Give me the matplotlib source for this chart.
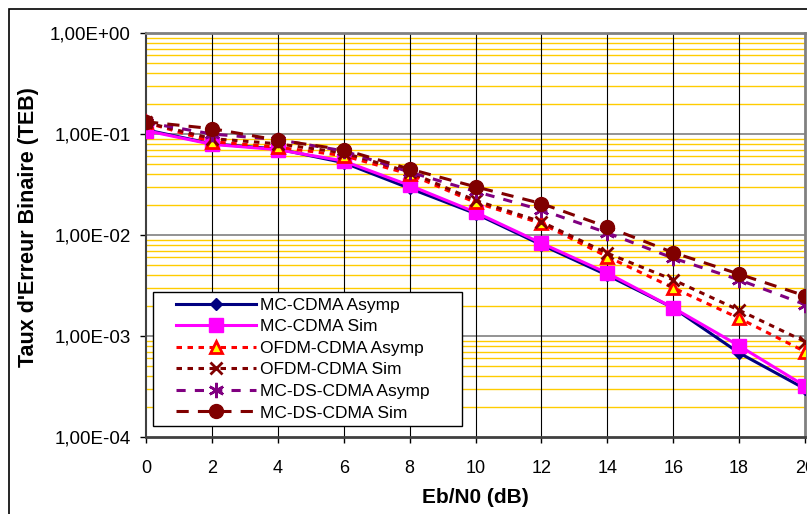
import matplotlib
matplotlib.use("Agg")
import matplotlib.pyplot as plt
from matplotlib.patches import Rectangle
from matplotlib.ticker import FixedLocator, NullFormatter
import numpy as np

plt.rcParams['font.family'] = ['Liberation Sans', 'DejaVu Sans']

ebn0 = [0, 2, 4, 6, 8, 10, 12, 14, 16, 18, 20]
mc_cdma_asymp = [0.11, 0.080, 0.071, 0.052, 0.029, 0.0163, 0.0080, 0.0040, 0.0019, 0.00068, 0.00030]
mc_cdma_sim = [0.108, 0.079, 0.070, 0.054, 0.031, 0.0168, 0.0083, 0.0042, 0.0019, 0.00080, 0.00032]
ofdm_asymp = [0.13, 0.084, 0.074, 0.061, 0.040, 0.021, 0.0130, 0.0061, 0.0030, 0.00150, 0.00070]
ofdm_sim = [0.13, 0.090, 0.080, 0.065, 0.042, 0.022, 0.0135, 0.0066, 0.0036, 0.00180, 0.00088]
mcds_asymp = [0.13, 0.100, 0.088, 0.068, 0.042, 0.027, 0.0177, 0.0105, 0.0059, 0.00360, 0.00205]
mcds_sim = [0.132, 0.113, 0.087, 0.070, 0.045, 0.030, 0.0205, 0.0120, 0.0067, 0.00410, 0.00250]
labels = ["MC-CDMA Asymp", "MC-CDMA Sim", "OFDM-CDMA Asymp", "OFDM-CDMA Sim",
          "MC-DS-CDMA Asymp", "MC-DS-CDMA Sim"]
ytick_labels = ["1,00E-04", "1,00E-03", "1,00E-02", "1,00E-01", "1,00E+00"]

W, H = 807, 514
fig = plt.figure(figsize=(W/100, H/100), dpi=100)
fig.patches.append(Rectangle((9/W, -0.1), 1.2, (1 - 9/H) + 0.1, transform=fig.transFigure,
                             fill=False, edgecolor='black', linewidth=1.2))
AX_L, AX_R, AX_T, AX_B = 146, 805, 33, 437
ax = fig.add_axes([AX_L/W, 1 - AX_B/H, (AX_R - AX_L)/W, (AX_B - AX_T)/H])
ax.set_yscale('log')
ax.set_xlim(0, 20)
ax.set_ylim(1e-4, 1)

def axc(px, py):
    return ((px - AX_L) / (AX_R - AX_L), (AX_B - py) / (AX_B - AX_T))

# gridlines
minor = [m * 10.0**e for e in range(-4, 0) for m in range(2, 10)]
for v in minor:
    ax.axhline(v, color='#FFCC00', lw=1.0, zorder=0.5)
for e in range(-3, 0):
    ax.axhline(10.0**e, color='#808080', lw=1.2, zorder=0.6)
for x in ebn0[1:-1]:
    ax.axvline(x, color='black', lw=0.8, zorder=0.7)

ax.plot(ebn0, mc_cdma_asymp, color='#000080', lw=2.2, marker='D', ms=6.5,
        mfc='#000080', mec='#000080', label=labels[0], zorder=3)
ax.plot(ebn0, mc_cdma_sim, color='#FF00FF', lw=2.2, marker='s', ms=9.5,
        mfc='#FF00FF', mec='#FF00FF', label=labels[1], zorder=3.1)
ax.plot(ebn0, ofdm_asymp, color='#FF0000', lw=2.2, ls=(0, (1.8, 1.8)), marker='^', ms=9,
        mfc='#FFFF00', mec='#FF0000', mew=2, label=labels[2], zorder=3.2)
ax.plot(ebn0, ofdm_sim, color='#800000', lw=2.2, ls=(0, (1.8, 1.8)), marker='x', ms=9,
        mec='#800000', mew=2, label=labels[3], zorder=3.3)
ax.plot(ebn0, mcds_asymp, color='#800080', lw=2.2, ls=(0, (3, 3)), marker=(6, 2, 0), ms=11,
        mec='#800080', mew=1.8, label=labels[4], zorder=3.4)
ax.plot(ebn0, mcds_sim, color='#800000', lw=2.2, ls=(0, (4, 3)), marker='o', ms=10,
        mfc='#800000', mec='#800000', label=labels[5], zorder=3.5)

ax.xaxis.set_major_locator(FixedLocator(ebn0))
ax.set_xticklabels([str(x) for x in ebn0], fontsize=13)
ax.yaxis.set_major_locator(FixedLocator([1e-4, 1e-3, 1e-2, 1e-1, 1]))
ax.set_yticklabels(ytick_labels, fontsize=13.5)
ax.yaxis.set_minor_formatter(NullFormatter())
ax.tick_params(axis='y', which='minor', length=0)
ax.tick_params(axis='both', which='major', direction='out', length=4, width=1)
ax.tick_params(axis='y', pad=7)
ax.tick_params(axis='x', pad=12.5)

for s in ['top', 'right']:
    ax.spines[s].set_color('#808080')
    ax.spines[s].set_linewidth(2)
ax.spines['left'].set_color('#404040')
ax.spines['left'].set_linewidth(1.5)
ax.spines['bottom'].set_color('#404040')
ax.spines['bottom'].set_linewidth(2)

ax.set_xlabel("Eb/N0 (dB)", fontsize=15, fontweight='bold', labelpad=8)
ax.set_ylabel("Taux d'Erreur Binaire (TEB)", fontsize=15.5, fontweight='bold')
ax.yaxis.set_label_coords(*axc(39, 227))

# legend frame
fx0, fy0 = axc(153, 426)
fx1, fy1 = axc(462, 292)
ax.add_patch(Rectangle((fx0, fy0), fx1 - fx0, fy1 - fy0, transform=ax.transAxes,
                       facecolor='white', edgecolor='black', lw=1.0, zorder=4.5, clip_on=False))
lx, ly = axc(176, 297.5)
leg = ax.legend(loc='upper left', bbox_to_anchor=(lx, ly), fontsize=12.5,
                frameon=False, handlelength=4.6, handletextpad=0.23, borderpad=0,
                labelspacing=0.37, borderaxespad=0)
leg.set_zorder(5)

fig.savefig("out.png", dpi=100)
